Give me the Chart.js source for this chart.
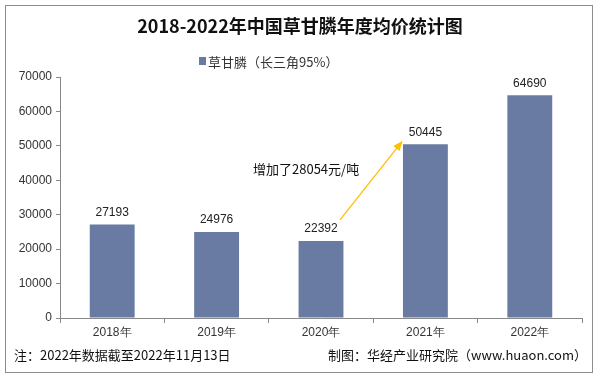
<!DOCTYPE html>
<html><head><meta charset="utf-8">
<script src="https://cdn.jsdelivr.net/npm/chart.js@4/dist/chart.umd.min.js"></script>
<style>html,body{margin:0;padding:0;background:#fff}#wrap{width:598px;height:378px}</style>
</head><body><div id="wrap"><canvas id="c" width="598" height="378"></canvas></div>
<script>
const categories = ["2018年","2019年","2020年","2021年","2022年"];
const prices = [27193, 24976, 22392, 50445, 64690];
const yTicks = [0,10000,20000,30000,40000,50000,60000,70000];
const seriesName = "草甘膦（长三角95%）";
const titleText = "2018-2022年中国草甘膦年度均价统计图";
const noteText = "注：2022年数据截至2022年11月13日";
const sourceText = "制图：华经产业研究院（www.huaon.com）";
const arrowText = "增加了28054元/吨";

const FONT = "'Noto Sans CJK SC','Liberation Sans',sans-serif";
const barColor = "#6A7BA3";

const deco = {
  id: 'deco',
  afterDraw(chart) {
    const ctx = chart.ctx, xs = chart.scales.x, ys = chart.scales.y;
    ctx.save();
    ctx.strokeStyle = "#8c8c8c"; ctx.lineWidth = 1;
    ctx.strokeRect(5.5, 5.5, 587, 367);
    ctx.fillStyle = "#111"; ctx.textAlign = "center"; ctx.textBaseline = "middle";
    ctx.font = "bold 18px " + FONT;
    ctx.fillText(titleText, 300, 26);
    ctx.font = "13px " + FONT; ctx.textAlign = "left";
    ctx.fillStyle = barColor; ctx.fillRect(199, 57, 7, 8);
    ctx.fillStyle = "#333"; ctx.fillText(seriesName, 208, 62);
    ctx.font = "12px 'Liberation Sans',Arial,sans-serif"; ctx.textAlign = "center"; ctx.fillStyle = "#222";
    const meta = chart.getDatasetMeta(0);
    meta.data.forEach((b, i) => { ctx.fillText(String(prices[i]), b.x, b.y - 12); });
    const x0 = xs.getPixelForValue(2) + 19, y0 = ys.getPixelForValue(prices[2]) - 21;
    const x1 = xs.getPixelForValue(3) - 24, y1 = ys.getPixelForValue(prices[3]) - 2;
    ctx.strokeStyle = "#FFC000"; ctx.fillStyle = "#FFC000"; ctx.lineWidth = 1.3;
    ctx.beginPath(); ctx.moveTo(x0, y0); ctx.lineTo(x1, y1); ctx.stroke();
    const ang = Math.atan2(y1 - y0, x1 - x0), L = 8, W = 4;
    ctx.beginPath(); ctx.moveTo(x1 + 2*Math.cos(ang), y1 + 2*Math.sin(ang));
    ctx.lineTo(x1 - L*Math.cos(ang) + W*Math.sin(ang), y1 - L*Math.sin(ang) - W*Math.cos(ang));
    ctx.lineTo(x1 - L*Math.cos(ang) - W*Math.sin(ang), y1 - L*Math.sin(ang) + W*Math.cos(ang));
    ctx.closePath(); ctx.fill();
    ctx.font = "13px " + FONT; ctx.fillStyle = "#111"; ctx.textAlign = "left";
    ctx.fillText(arrowText, 253, 169);
    ctx.font = "13px " + FONT; ctx.fillStyle = "#111";
    ctx.fillText(noteText, 14, 355);
    ctx.textAlign = "right"; ctx.fillText(sourceText, 587, 355);
    ctx.restore();
  }
};

new Chart(document.getElementById('c'), {
  type: 'bar',
  data: { labels: categories, datasets: [{ label: seriesName, data: prices, backgroundColor: barColor, categoryPercentage: 1, barPercentage: 0.43 }] },
  options: {
    responsive: false, animation: false, devicePixelRatio: 1,
    layout: { padding: { left: 0, right: 16, top: 77, bottom: 0 } },
    plugins: { legend: { display: false }, tooltip: { enabled: false }, title: { display: false } },
    scales: {
      x: {
        grid: { display: true, drawOnChartArea: false, color: "#888", tickLength: 5, offset: true },
        border: { color: "#888" },
        ticks: { color: "#333", font: { size: 12, family: "'Liberation Sans',Arial,sans-serif" }, padding: 2 },
        afterFit(s) { s.height = 60; }
      },
      y: {
        min: 0, max: 70000,
        afterBuildTicks(s) { s.ticks = yTicks.map(v => ({ value: v })); },
        grid: { display: true, drawOnChartArea: false, color: "#888", tickLength: 4 },
        border: { color: "#888" },
        ticks: { color: "#333", font: { size: 12, family: "'Liberation Sans',Arial,sans-serif" }, padding: 4, callback: v => String(v) },
        afterFit(s) { s.width = 60; }
      }
    }
  },
  plugins: [deco]
});
</script></body></html>
